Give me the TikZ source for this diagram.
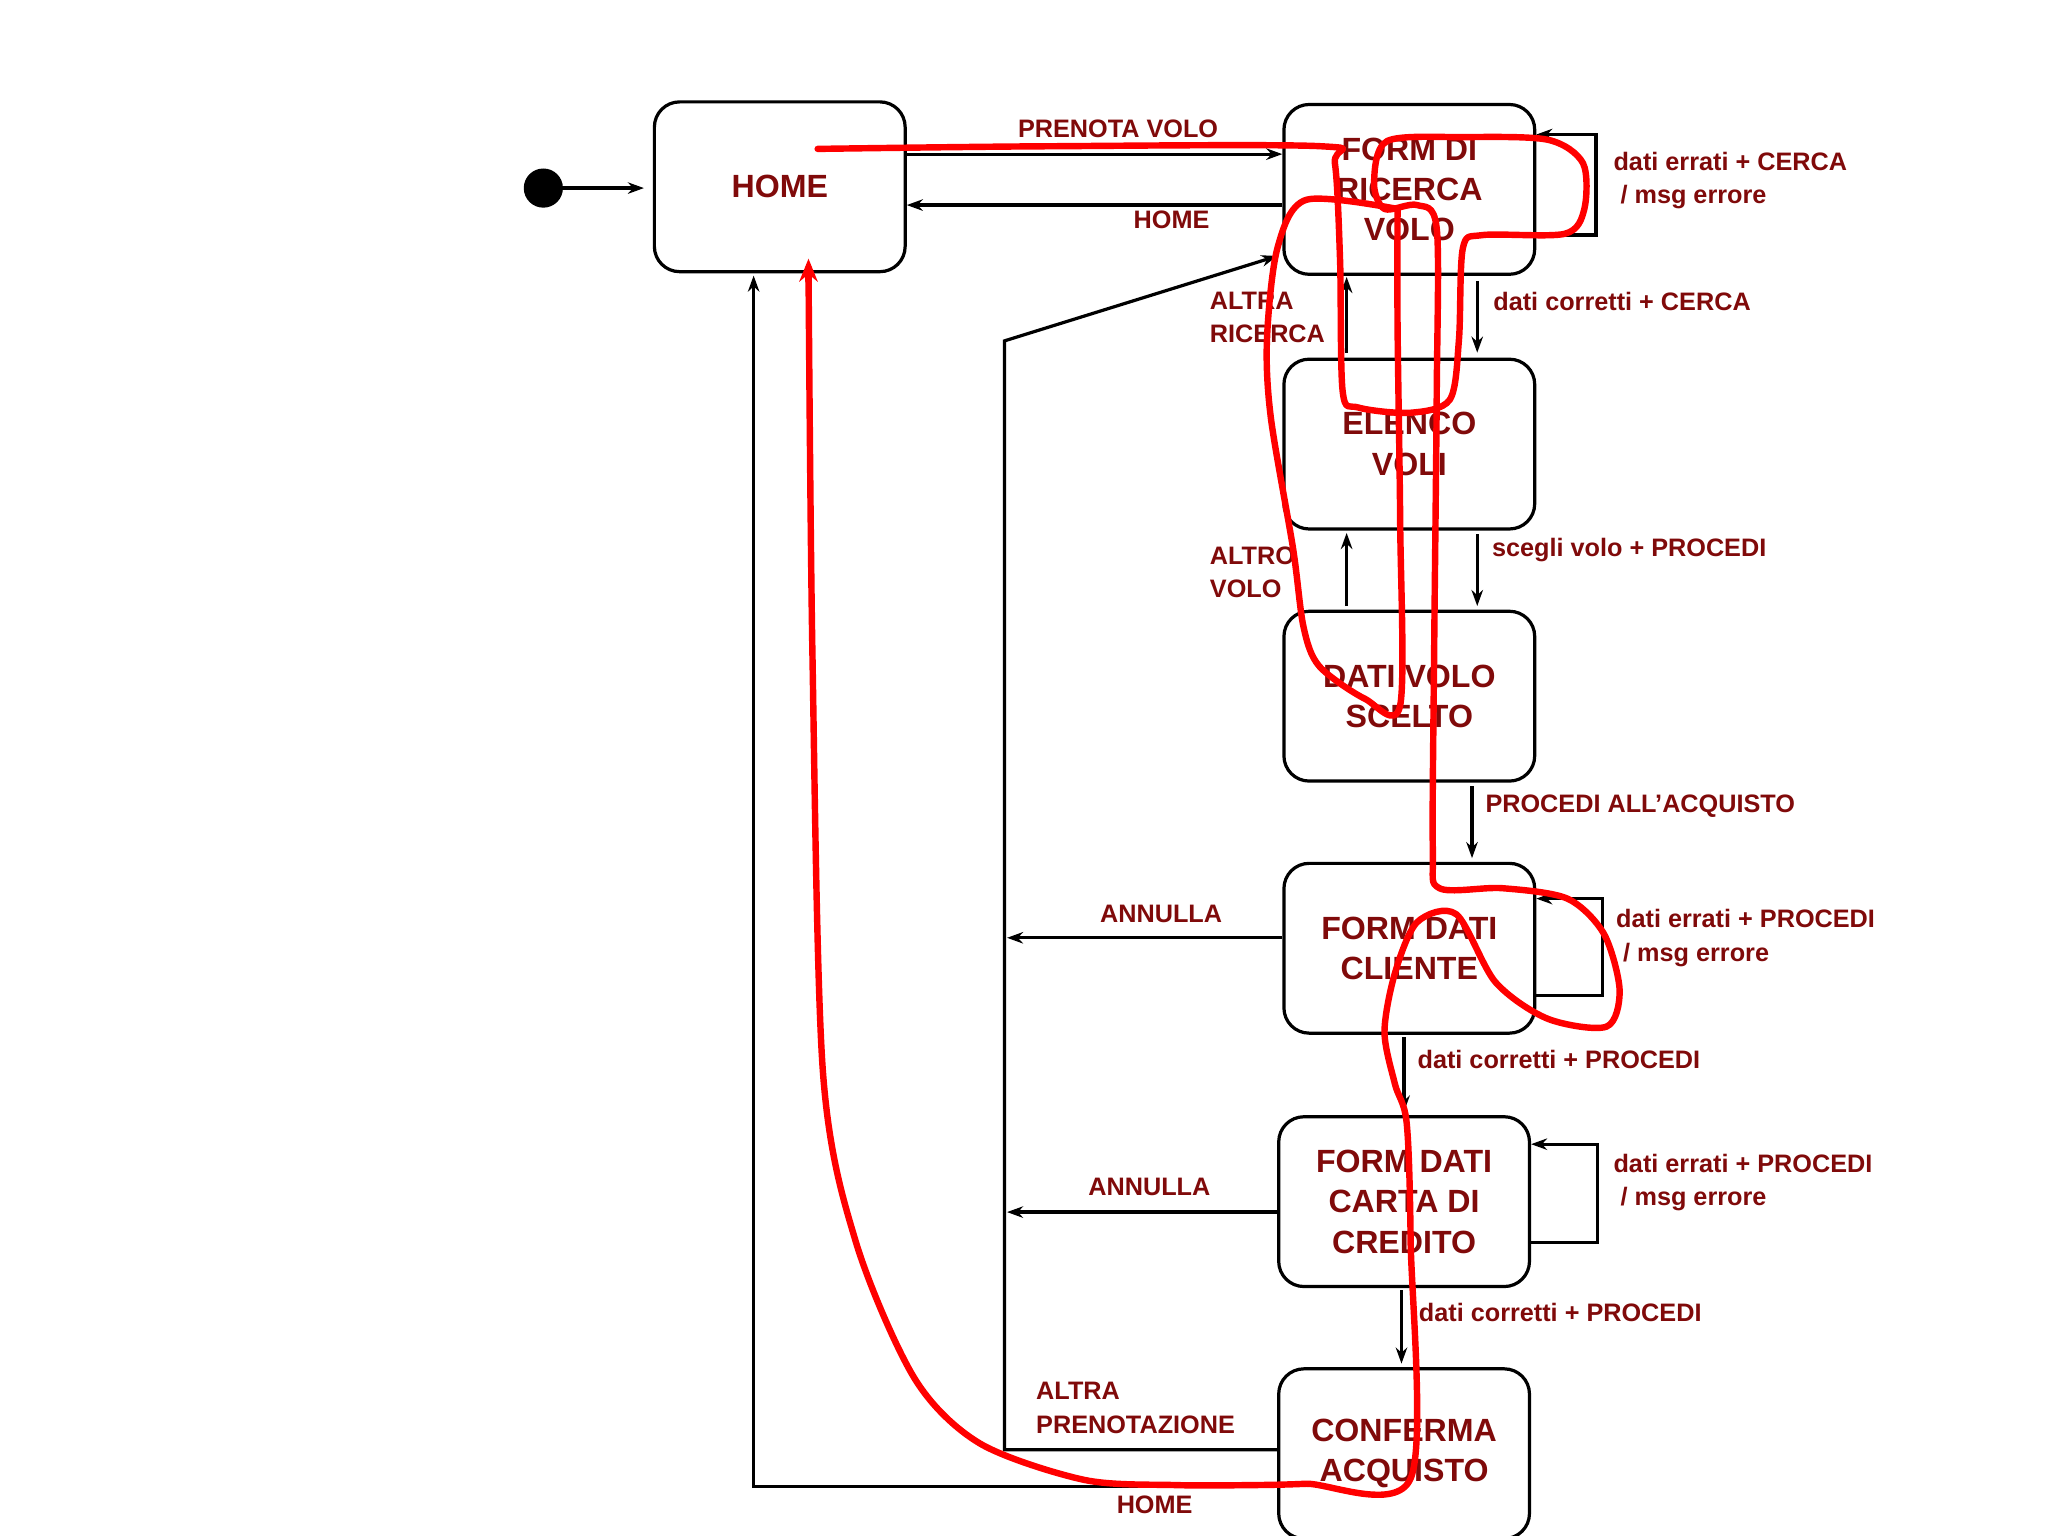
\documentclass[tikz,border=0pt]{standalone}
\usepackage{fontspec}
\setmainfont{Liberation Sans}
\usetikzlibrary{arrows.meta}
\definecolor{txt}{RGB}{128,10,10}
\begin{document}
\begin{tikzpicture}[x=0.02cm,y=-0.02cm,
  st/.style={draw,line width=1.4pt,rounded corners=11pt,minimum width=192*0.02cm,minimum height=130*0.02cm,align=center,text=txt,font=\bfseries\fontsize{14}{17.6}\selectfont},
  lb/.style={text=txt,font=\bfseries\fontsize{11}{14.5}\selectfont,inner sep=0pt},
  ar/.style={line width=1.4pt,-{Stealth[length=7pt,width=5pt]}},
  red/.style={draw=red,line width=2.8pt,line cap=round,line join=round}]
\useasboundingbox (0,0) rectangle (1568,1176);
\fill (416,144) circle (15);
\coordinate (dot) at (431,144);
\node[st] (home) at (597,143) {HOME};
\node[st] (frv) at (1079,145) {FORM DI\\RICERCA\\VOLO};
\node[st] (ev) at (1079,340) {ELENCO\\VOLI};
\node[st] (dvs) at (1079,533) {DATI VOLO\\SCELTO};
\node[st] (fdc) at (1079,726) {FORM DATI\\CLIENTE};
\node[st] (fcc) at (1075,920) {FORM DATI\\CARTA DI\\CREDITO};
\node[st] (ca) at (1075,1113) {CONFERMA\\ACQUISTO};

\draw[ar] (dot) -- (493,144);
\draw[ar] (home.east |- 0,118) -- (frv.west |- 0,118);
\node[lb] at (856,99) {PRENOTA VOLO};
\draw[ar] (frv.west |- 0,157) -- (home.east |- 0,157);
\node[lb] at (897,168) {HOME};
\draw[ar] (frv.east |- 0,180) -| (1222,103) -- (frv.east |- 0,103);
\node[lb,align=left,anchor=north west] at (1235,116) {dati errati + CERCA\\\ / msg errore};
\draw[ar] (1131,215) -- (1131,270);
\node[lb,anchor=west] at (1143,231) {dati corretti + CERCA};
\draw[ar] (1031,270) -- (1031,212);
\node[lb,align=left,anchor=west] at (926,243) {ALTRA\\RICERCA};
\draw[ar] (1131,409) -- (1131,464);
\node[lb,anchor=west] at (1142,421) {scegli volo + PROCEDI};
\draw[ar] (1031,464) -- (1031,408);
\node[lb,align=left,anchor=west] at (926,438) {ALTRO\\VOLO};
\draw[ar] (1127,602) -- (1127,657);
\node[lb,anchor=west] at (1137,617) {PROCEDI ALL’ACQUISTO};
\draw[ar] (fdc.east |- 0,762) -| (1227,688) -- (fdc.east |- 0,688);
\node[lb,align=left,anchor=north west] at (1237,696) {dati errati + PROCEDI\\\ / msg errore};
\draw[ar] (fdc.west |- 0,718) -- (771,718);
\node[lb] at (889,700) {ANNULLA};
\draw[ar] (1075,794) -- (1075,851);
\node[lb,anchor=west] at (1085,811) {dati corretti + PROCEDI};
\draw[ar] (fcc.east |- 0,951) -| (1223,876) -- (fcc.east |- 0,876);
\node[lb,align=left,anchor=north west] at (1235,883) {dati errati + PROCEDI\\\ / msg errore};
\draw[ar] (fcc.west |- 0,928) -- (771,928);
\node[lb] at (880,909) {ANNULLA};
\draw[ar] (1073,988) -- (1073,1044);
\node[lb,anchor=west] at (1086,1005) {dati corretti + PROCEDI};
\draw[ar] (ca.west |- 0,1110) -- (769,1110) -- (769,261) -- (978,196);
\node[lb,align=left,anchor=west] at (793,1078) {ALTRA\\PRENOTAZIONE};
\draw[ar] (ca.west |- 0,1138) -- (577,1138) -- (577,211);
\node[lb] at (884,1152) {HOME};

% red freehand strokes
\draw[red] plot[smooth,tension=0.5] coordinates {(626,114) (800,112) (1012,112) (1022,125) (1026,200) (1028,300) (1040,312) (1080,316) (1110,306) (1117,260) (1120,190) (1135,180) (1198,179) (1213,160) (1212,125) (1185,107) (1120,105) (1062,108) (1052,140) (1060,160) (1085,157) (1100,175) (1100,300) (1098,500) (1097,650) (1102,680) (1150,680) (1200,688) (1228,715) (1240,758) (1230,786) (1185,780) (1145,752) (1115,700) (1085,706) (1068,745) (1060,790) (1068,830) (1077,860) (1080,950) (1080,1132) (1000,1136) (960,1137) (900,1137) (830,1133) (750,1105) (700,1055) (655,950) (630,820) (622,500) (619,205)};
\draw[red,-{Stealth[length=10pt,width=8pt]}] (619,215) -- (619,198);
\draw[red] plot[smooth,tension=0.5] coordinates {(1070,160) (1000,153) (978,190) (970,260) (973,320) (990,420) (998,480) (1010,510) (1045,535) (1072,540) (1072,400) (1070,250) (1070,160)};
\end{tikzpicture}
\end{document}
